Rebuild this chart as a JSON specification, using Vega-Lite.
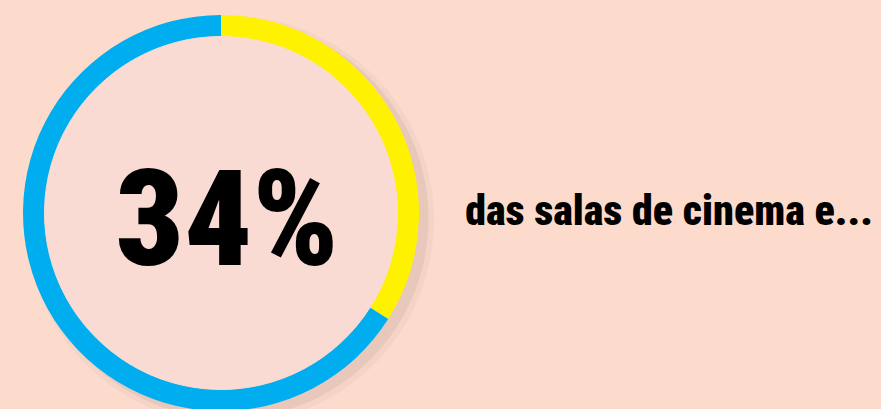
{
  "$schema": "https://vega.github.io/schema/vega-lite/v6.json",
  "background": "#FCDBCC",
  "width": 881,
  "height": 409,
  "padding": 0,
  "autosize": {"type": "none"},
  "config": {"view": {"stroke": null}},
  "data": {"values": [
    {"categoria": "Sim", "valor": 34},
    {"categoria": "Não", "valor": 66}
  ]},
  "layer": [
    {
      "mark": {"type": "arc", "radius": 204, "color": "#EBCBBE", "opacity": 0.45},
      "encoding": {
        "theta": {"field": "valor", "type": "quantitative"},
        "x": {"datum": 230, "type": "quantitative", "scale": {"domain": [0, 881]}, "axis": null},
        "y": {"datum": 220, "type": "quantitative", "scale": {"domain": [0, 409], "reverse": true}, "axis": null}
      }
    },
    {
      "mark": {"type": "arc", "radius": 199, "color": "#E8C8BB", "stroke": "#E8C8BB", "strokeWidth": 1},
      "encoding": {
        "theta": {"field": "valor", "type": "quantitative"},
        "x": {"datum": 229, "type": "quantitative", "scale": {"domain": [0, 881]}, "axis": null},
        "y": {"datum": 219, "type": "quantitative", "scale": {"domain": [0, 409], "reverse": true}, "axis": null}
      }
    },
    {
      "mark": {"type": "arc", "radius": 198, "radius2": 176, "stroke": null},
      "encoding": {
        "theta": {"field": "valor", "type": "quantitative", "stack": true},
        "order": {"field": "valor", "sort": "ascending"},
        "color": {"field": "categoria", "type": "nominal", "scale": {"domain": ["Sim", "Não"], "range": ["#FFF200", "#00AEEF"]}, "legend": null},
        "x": {"datum": 221, "type": "quantitative", "scale": {"domain": [0, 881]}, "axis": null},
        "y": {"datum": 213, "type": "quantitative", "scale": {"domain": [0, 409], "reverse": true}, "axis": null}
      }
    },
    {
      "mark": {"type": "arc", "radius": 176.5, "color": "#F9DBD3", "stroke": "#F9DBD3", "strokeWidth": 1},
      "encoding": {
        "theta": {"field": "valor", "type": "quantitative"},
        "x": {"datum": 221, "type": "quantitative", "scale": {"domain": [0, 881]}, "axis": null},
        "y": {"datum": 213, "type": "quantitative", "scale": {"domain": [0, 409], "reverse": true}, "axis": null}
      }
    },
    {
      "transform": [{"filter": "datum.categoria == 'Sim'"}],
      "mark": {"type": "text", "font": "Roboto Condensed, Roboto", "fontWeight": 900, "fontSize": 134, "color": "#000000", "align": "center", "baseline": "alphabetic"},
      "encoding": {
        "text": {"value": "34%"},
        "x": {"datum": 227, "type": "quantitative", "scale": {"domain": [0, 881]}, "axis": null},
        "y": {"datum": 265, "type": "quantitative", "scale": {"domain": [0, 409], "reverse": true}, "axis": null}
      }
    },
    {
      "transform": [{"filter": "datum.categoria == 'Sim'"}],
      "mark": {"type": "text", "font": "Roboto Condensed, Roboto", "fontWeight": 900, "fontSize": 42, "color": "#000000", "align": "center", "baseline": "alphabetic"},
      "encoding": {
        "text": {"value": "das salas de cinema e..."},
        "x": {"datum": 669, "type": "quantitative", "scale": {"domain": [0, 881]}, "axis": null},
        "y": {"datum": 225, "type": "quantitative", "scale": {"domain": [0, 409], "reverse": true}, "axis": null}
      }
    }
  ]
}
